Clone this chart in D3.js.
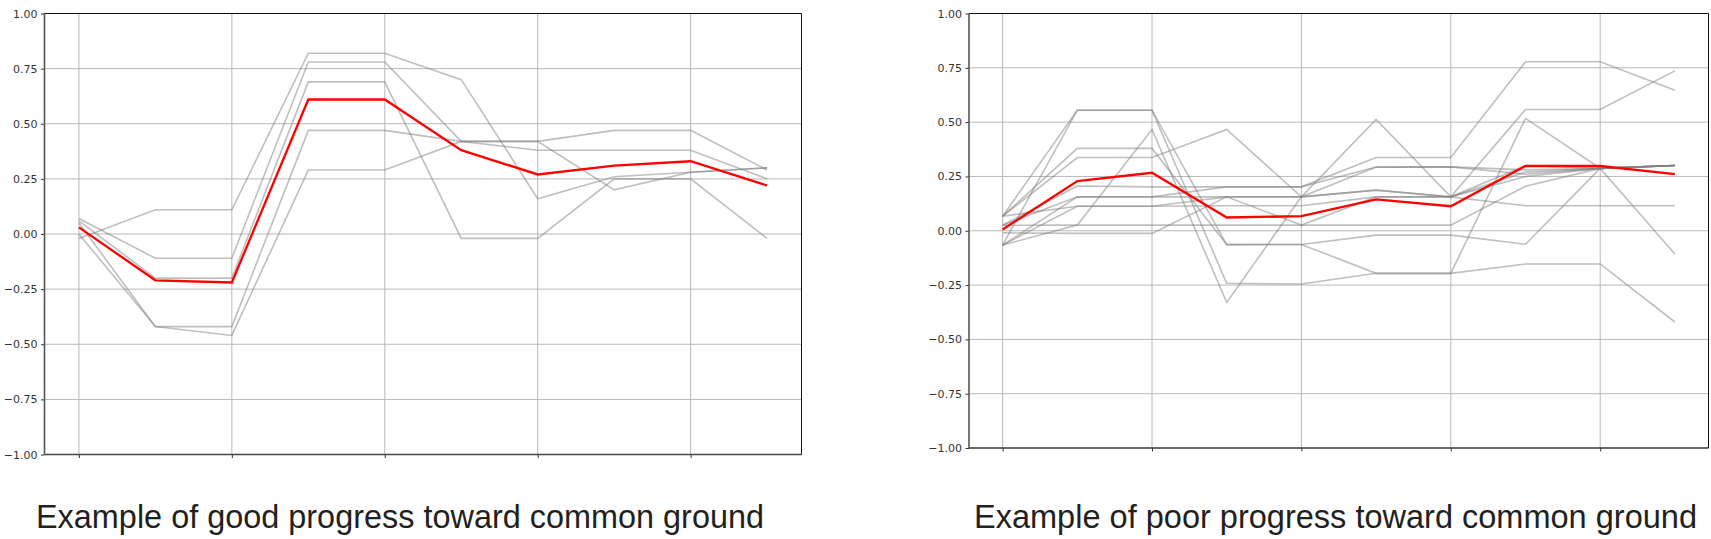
<!DOCTYPE html>
<html>
<head>
<meta charset="utf-8">
<title>common ground</title>
<script src="https://cdn.jsdelivr.net/npm/d3@7"></script>
<style>
  body { margin: 0; background: #fff; }
</style>
</head>
<body>
<script>
// rounds of the discussion (x positions)
var rounds = [0, 1, 2, 3, 4, 5, 6, 7, 8, 9];
var xTicks = [0, 2, 4, 6, 8];
var yTicks = [-1, -0.75, -0.5, -0.25, 0, 0.25, 0.5, 0.75, 1];

// left panel: good progress
var goodMean = [0.03, -0.21, -0.22, 0.61, 0.61, 0.38, 0.27, 0.31, 0.33, 0.22];
var goodLines = [
  [-0.02, 0.11, 0.11, 0.82, 0.82, 0.70, 0.16, 0.26, 0.28, 0.30],
  [0.07, -0.11, -0.11, 0.78, 0.78, 0.42, 0.42, 0.47, 0.47, 0.29],
  [0.06, -0.20, -0.20, 0.69, 0.69, -0.02, -0.02, 0.25, 0.25, -0.02],
  [0.05, -0.42, -0.42, 0.47, 0.47, 0.42, 0.42, 0.20, 0.28, 0.30],
  [0.00, -0.42, -0.46, 0.29, 0.29, 0.42, 0.38, 0.38, 0.38, 0.25]
];

// right panel: poor progress
var poorMean = [0.006, 0.229, 0.267, 0.061, 0.067, 0.144, 0.113, 0.298, 0.298, 0.261];
var poorLines = [
  [-0.066, 0.555, 0.555, -0.064, -0.063, -0.02, -0.02, -0.062, 0.287, 0.30],
  [0.067, 0.555, 0.555, -0.242, -0.245, -0.196, -0.196, 0.517, 0.287, -0.107],
  [-0.066, 0.026, 0.466, -0.33, 0.156, 0.187, 0.156, 0.25, 0.287, 0.30],
  [0.067, 0.379, 0.379, -0.064, -0.063, -0.196, -0.196, -0.153, -0.153, -0.42],
  [0.067, 0.337, 0.337, 0.466, 0.156, 0.512, 0.156, 0.558, 0.558, 0.736],
  [0.025, 0.206, 0.202, 0.202, 0.202, 0.337, 0.337, 0.778, 0.778, 0.647],
  [-0.066, 0.156, 0.156, 0.156, 0.156, 0.293, 0.294, 0.28, 0.287, 0.30],
  [0.025, 0.156, 0.156, 0.202, 0.202, 0.293, 0.294, 0.26, 0.287, 0.30],
  [0.067, 0.113, 0.113, 0.156, 0.156, 0.187, 0.156, 0.30, 0.287, 0.30],
  [-0.066, 0.113, 0.113, 0.115, 0.115, 0.156, 0.156, 0.115, 0.115, 0.115],
  [0.025, 0.026, 0.026, 0.026, 0.026, 0.026, 0.026, 0.205, 0.287, 0.30],
  [-0.01, -0.012, -0.012, 0.156, 0.026, 0.156, 0.156, 0.27, 0.287, 0.30]
];

var captions = ["Example of good progress toward common ground",
                "Example of poor progress toward common ground"];

var w = 1711;
var h = 539;

var svg = d3.select("body")
            .append("svg")
            .attr("width", w)
            .attr("height", h);

function drawPanel(box, lines, mean, caption) {
  var xScale = d3.scaleLinear()
                 .domain([-0.45, 9.45])
                 .range([box.left, box.right]);
  var yScale = d3.scaleLinear()
                 .domain([-1, 1])
                 .range([box.bottom, box.top]);

  var g = svg.append("g");

  // grid
  g.selectAll(".hgrid")
   .data(yTicks)
   .enter()
   .append("line")
   .attr("x1", box.left)
   .attr("x2", box.right)
   .attr("y1", function(d) { return yScale(d); })
   .attr("y2", function(d) { return yScale(d); })
   .attr("stroke", "#b8b8b8")
   .attr("stroke-width", 1);

  g.selectAll(".vgrid")
   .data(xTicks)
   .enter()
   .append("line")
   .attr("x1", function(d) { return xScale(d); })
   .attr("x2", function(d) { return xScale(d); })
   .attr("y1", box.top)
   .attr("y2", box.bottom)
   .attr("stroke", "#b8b8b8")
   .attr("stroke-width", 1);

  var line = d3.line()
               .x(function(d, i) { return xScale(rounds[i]); })
               .y(function(d) { return yScale(d); });

  for (var i = 0; i < lines.length; i++) {
    g.append("path")
     .attr("d", line(lines[i]))
     .attr("fill", "none")
     .attr("stroke", "#808080")
     .attr("stroke-opacity", 0.5)
     .attr("stroke-width", 1.6);
  }

  g.append("path")
   .attr("d", line(mean))
   .attr("fill", "none")
   .attr("stroke", "#ff0000")
   .attr("stroke-width", 2.3);

  // axes
  var yAxis = d3.axisLeft(yScale)
                .tickValues(yTicks)
                .tickFormat(d3.format(".2f"))
                .tickSize(3.5)
                .tickPadding(3.5);
  var ya = g.append("g")
            .attr("transform", "translate(" + box.left + ",0)")
            .call(yAxis);
  ya.select(".domain").remove();
  ya.selectAll("text")
    .attr("font-family", "DejaVu Sans")
    .attr("font-size", "11px")
    .attr("fill", "#333");
  ya.selectAll("line").attr("stroke", "#333");

  var xAxis = d3.axisBottom(xScale)
                .tickValues(xTicks)
                .tickFormat("")
                .tickSize(3.5);
  var xa = g.append("g")
            .attr("transform", "translate(0," + box.bottom + ")")
            .call(xAxis);
  xa.select(".domain").remove();
  xa.selectAll("line").attr("stroke", "#333");

  // spines
  g.append("line").attr("x1", box.left).attr("x2", box.right)
   .attr("y1", box.top).attr("y2", box.top)
   .attr("stroke", "#111").attr("stroke-width", 1);
  g.append("line").attr("x1", box.right).attr("x2", box.right)
   .attr("y1", box.top).attr("y2", box.bottom)
   .attr("stroke", "#111").attr("stroke-width", 1);
  g.append("line").attr("x1", box.left).attr("x2", box.right)
   .attr("y1", box.bottom).attr("y2", box.bottom)
   .attr("stroke", "#444").attr("stroke-width", 1.4);
  g.append("line").attr("x1", box.left).attr("x2", box.left)
   .attr("y1", box.top).attr("y2", box.bottom)
   .attr("stroke", "#555").attr("stroke-width", 1.6);

  svg.append("text")
     .text(caption)
     .attr("x", box.capX)
     .attr("y", 528)
     .attr("textLength", box.capW)
     .attr("lengthAdjust", "spacingAndGlyphs")
     .attr("font-family", "Liberation Sans, Arial, sans-serif")
     .attr("font-size", "32.5px")
     .attr("fill", "#231f20");
}

drawPanel({left: 44.5, right: 801.5, top: 13.5, bottom: 454.5, capX: 36, capW: 728},
          goodLines, goodMean, captions[0]);
drawPanel({left: 969, right: 1708.5, top: 13.5, bottom: 448, capX: 974, capW: 723},
          poorLines, poorMean, captions[1]);
</script>
</body>
</html>
